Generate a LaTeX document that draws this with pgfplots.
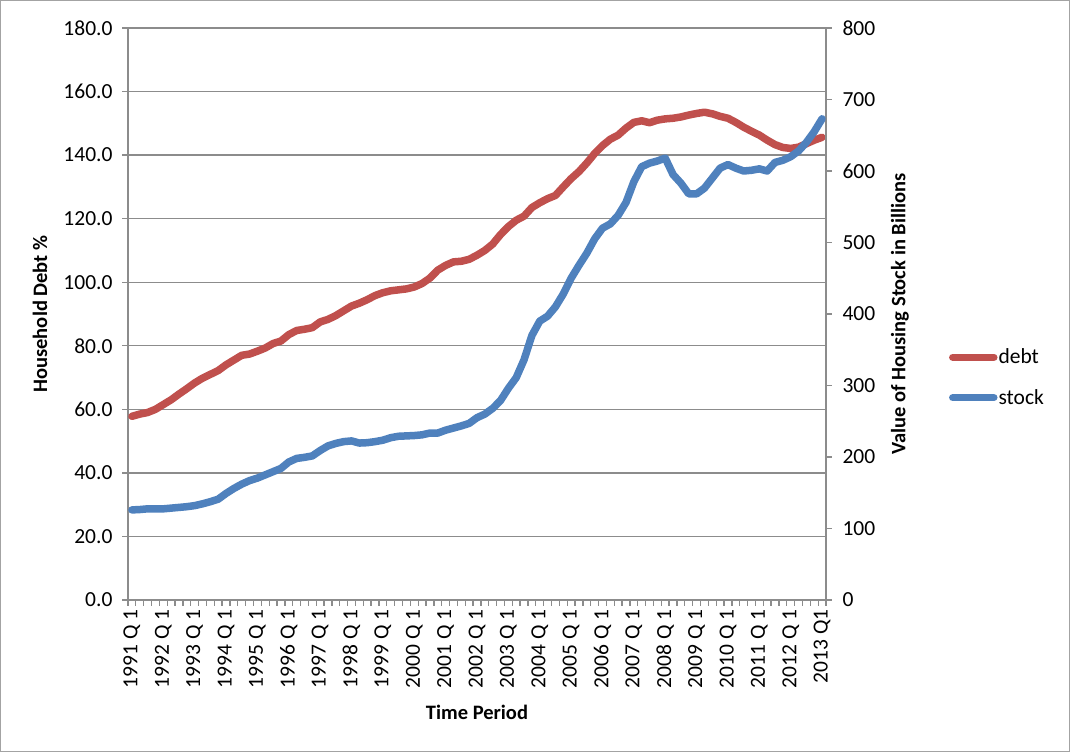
\documentclass[border=0pt]{standalone}
\usepackage{pgfplots}
\pgfplotsset{compat=1.18}
\usepackage{fontspec}
\setmainfont{Carlito}
\definecolor{debtc}{HTML}{C0504D}
\definecolor{stockc}{HTML}{4F81BD}
\definecolor{gridc}{HTML}{8C8C8C}
\begin{document}
\begin{tikzpicture}
\useasboundingbox (0,0) rectangle (1070pt,752pt);
\fill[white] (0,0) rectangle (1070pt,752pt);
\draw[gridc!80, line width=1pt] (0.5pt,0.5pt) rectangle (1069.5pt,751.5pt);
\pgfplotsset{every axis/.append style={
  scale only axis, width=698pt, height=572pt, at={(128pt,152pt)}, anchor=south west,
  xmin=-0.5, xmax=88.5,
  tick label style={font=\fontsize{21.5}{22}\selectfont},
  label style={font=\fontsize{20.5}{22}\selectfont\bfseries},
  /pgf/number format/assume math mode=true,
  axis line style={gridc, line width=1.3pt},
  tick style={gridc, line width=1.3pt},
  tick align=outside,
  major tick length=6pt, minor tick length=6pt,
}}
\begin{axis}[
  ymin=0, ymax=180, ytick={0,20,...,180},
  axis y line*=left, axis x line*=bottom,
  ymajorgrids, grid style={gridc, line width=1.3pt},
  yticklabel={\pgfmathprintnumber[fixed,fixed zerofill,precision=1]{\tick}},
  yticklabel style={xshift=-6pt},
  xtick={0,4,...,88},
  xticklabels={1991 Q 1,1992 Q 1,1993 Q 1,1994 Q 1,1995 Q 1,1996 Q 1,1997 Q 1,1998 Q 1,1999 Q 1,2000 Q 1,2001 Q 1,2002 Q 1,2003 Q 1,2004 Q 1,2005 Q 1,2006 Q 1,2007 Q 1,2008 Q 1,2009 Q 1,2010 Q 1,2011 Q 1,2012 Q 1,2013 Q1},
  xticklabel style={rotate=90, anchor=east, yshift=0pt},
  every major x tick/.append style={draw=none},
  minor xtick={-0.5,0.5,...,88.5},
  xlabel={Time Period},
  xlabel style={at={(axis description cs:0.5,-0.196)}, anchor=center},
  ylabel={Household Debt \%},
  ylabel style={at={(axis description cs:-0.126,0.5)}, anchor=center, rotate=0},
]
\addplot[debtc, line width=7.5pt, line join=round, line cap=round] coordinates {
(0,57.8)(1,58.5)(2,59.0)(3,60.0)(4,61.5)(5,63.0)(6,64.8)(7,66.5)(8,68.3)(9,69.8)(10,71.0)(11,72.2)(12,74.0)(13,75.5)(14,77.0)(15,77.4)(16,78.3)(17,79.3)(18,80.7)(19,81.5)(20,83.5)(21,84.8)(22,85.2)(23,85.7)(24,87.5)(25,88.3)(26,89.5)(27,91.0)(28,92.5)(29,93.4)(30,94.5)(31,95.8)(32,96.7)(33,97.3)(34,97.6)(35,97.9)(36,98.5)(37,99.6)(38,101.3)(39,103.8)(40,105.3)(41,106.4)(42,106.6)(43,107.2)(44,108.5)(45,110.0)(46,112.0)(47,115.0)(48,117.5)(49,119.5)(50,120.8)(51,123.5)(52,125.0)(53,126.3)(54,127.3)(55,130.0)(56,132.6)(57,134.8)(58,137.5)(59,140.5)(60,143.0)(61,145.0)(62,146.3)(63,148.5)(64,150.3)(65,150.8)(66,150.2)(67,151.0)(68,151.4)(69,151.6)(70,152.0)(71,152.6)(72,153.1)(73,153.5)(74,153.0)(75,152.2)(76,151.6)(77,150.3)(78,148.8)(79,147.5)(80,146.3)(81,144.7)(82,143.3)(83,142.4)(84,142.1)(85,142.5)(86,143.6)(87,144.7)(88,145.6)
};
\end{axis}
\begin{axis}[
  ymin=0, ymax=800, ytick={0,100,...,800},
  axis y line*=right, axis x line=none,
  yticklabel style={xshift=7pt},
  ylabel={Value of Housing Stock in Billions},
  ylabel style={at={(axis description cs:1.106,0.5)}, anchor=center, rotate=0},
  legend style={draw=none, fill=none, at={(axis description cs:1.176,0.389)}, anchor=west,
    font=\fontsize{21.5}{22}\selectfont, row sep=22pt, inner sep=0pt,
    nodes={inner sep=1pt}},
  legend cell align=left,
  legend image code/.code={\draw[#1, line width=7.5pt, line cap=round] (3pt,0pt) -- (44pt,0pt);},
]
\addlegendimage{debtc}
\addlegendentry{debt}
\addplot[stockc, line width=7.5pt, line join=round, line cap=round] coordinates {
(0,126)(1,126.5)(2,127.5)(3,127.5)(4,127.5)(5,128.5)(6,129.5)(7,130.5)(8,132)(9,134.5)(10,137.5)(11,141)(12,149)(13,156)(14,162)(15,167)(16,170.5)(17,175)(18,179.5)(19,184)(20,193)(21,198)(22,199.5)(23,201.5)(24,209)(25,215.5)(26,219)(27,221.5)(28,222.5)(29,219.5)(30,220)(31,221.5)(32,223.5)(33,227)(34,229)(35,229.5)(36,230)(37,231)(38,233.5)(39,233.5)(40,237.5)(41,240.5)(42,243.5)(43,247)(44,255)(45,260)(46,268)(47,279)(48,296)(49,311)(50,336)(51,370)(52,390)(53,397)(54,410)(55,428)(56,450)(57,468)(58,485)(59,505)(60,520)(61,526)(62,538)(63,556)(64,585)(65,606)(66,611)(67,614)(68,618)(69,595)(70,583)(71,568)(72,568)(73,576)(74,590)(75,604)(76,609)(77,604)(78,600)(79,601)(80,603)(81,600)(82,612)(83,615)(84,620)(85,628)(86,640)(87,655)(88,673)
};
\addlegendentry{stock}
\end{axis}
\end{tikzpicture}
\end{document}
